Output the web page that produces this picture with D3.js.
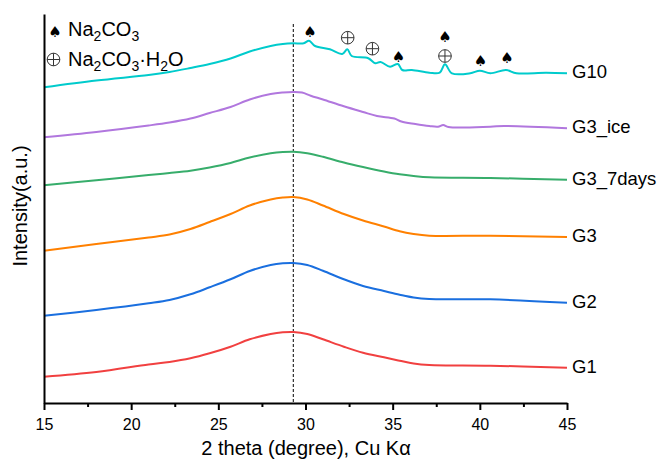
<!DOCTYPE html>
<html>
<head>
<meta charset="utf-8">
<script src="https://cdn.jsdelivr.net/npm/d3@7"></script>
<style>
  body { margin: 0; background: #fff; }
  svg { font-family: "Liberation Sans", Arial, sans-serif; }
</style>
</head>
<body>
<svg width="664" height="466"></svg>
<script>
// XRD patterns, stacked (intensity in a.u., offsets included)
const xG = [15, 18, 21, 22.2, 23.4, 24.5, 25.7, 26.8, 28, 28.7, 29.3, 30.1, 31, 32.2, 33.3, 34.5, 35.4, 36.2, 37.1, 40.6, 45];
const g1 = [26.3, 31, 38.5, 41, 44.7, 49.7, 56.3, 63.7, 69, 70.7, 71, 69, 63.7, 56.3, 50.3, 45.7, 42.3, 39.5, 38, 37.3, 35.3];
const g2 = [87.3, 93, 99.7, 103, 108.7, 115.7, 123.7, 132, 138, 139.7, 140, 138, 132.3, 123.7, 117, 112, 108.3, 105.5, 104, 103.7, 100.3];
const g3 = [152.3, 159, 165.5, 168.5, 174, 181, 189, 197.5, 203.5, 205.5, 206, 203.5, 197.5, 189, 182.5, 176.5, 171.7, 169, 167.3, 167.3, 166];
const g3days = [217.7, 222.7, 228, 230, 232.3, 235.5, 240, 245.5, 249.7, 251, 251.3, 249.7, 246.2, 240.5, 236, 231.5, 228.7, 227, 225.7, 225, 223.3];

const xIce = [15, 18, 21, 22.2, 23.4, 24.5, 25.7, 26.8, 28, 28.7, 29.3, 29.8, 30.3, 31, 32.2, 33.3, 34.1, 35.1, 35.5, 36.3, 37.1, 37.6, 37.9, 38.2, 40.6, 41.4, 45];
const g3ice = [265.7, 271, 277.5, 280.5, 284.5, 290, 296, 303.5, 309, 310.5, 311, 310.5, 307.3, 303.5, 296.7, 291, 287, 284.5, 281.5, 279, 277, 276.3, 278, 276, 276.3, 277, 274.7];

const x10 = [15, 18, 21, 22.2, 23.4, 24.5, 25.7, 26.8, 28, 28.7, 29.3, 29.9, 30.2, 30.55, 31.4, 32.1, 32.4, 32.65, 33.6, 34.0, 34.3, 34.85, 35.3, 35.55, 36.1, 37.1, 37.7, 38.0, 38.4, 39.45, 40.0, 40.6, 41.5, 42.1, 43.8, 45];
const g10 = [315.7, 322.5, 328, 331, 335, 339, 344.5, 351.5, 357, 359, 359.7, 359.7, 362.3, 357, 353.7, 349, 353.7, 347, 344.7, 339.7, 341, 336.3, 339, 333, 333, 330.3, 330.3, 338.7, 329.7, 329.7, 332.3, 329.7, 333, 329.7, 330.3, 329.7];

const seriesNames = ["G1", "G2", "G3", "G3_7days", "G3_ice", "G10"];
const seriesColors = ["#F14040", "#1A6FDF", "#FF8000", "#37AD6B", "#B177DE", "#00CBCC"];
const seriesX = [xG, xG, xG, xG, xIce, x10];
const seriesY = [g1, g2, g3, g3days, g3ice, g10];

// phase markers above the G10 pattern
const markX = [30.26, 32.42, 33.84, 35.33, 38.0, 38.0, 40.03, 41.56];
const markY = [371.3, 365.3, 354.3, 347, 366.3, 347, 343, 345.7];
const markType = ["spade", "oplus", "oplus", "spade", "spade", "oplus", "spade", "spade"];

const xTicks = [15, 20, 25, 30, 35, 40, 45];
const xMinor = [17.5, 22.5, 27.5, 32.5, 37.5, 42.5];
const refLine = 29.3;

const svg = d3.select("svg");

const x = d3.scaleLinear().domain([15, 45]).range([44, 567]);
const y = d3.scaleLinear().domain([0, 389]).range([403, 14]);

// markers
function spade(g, cx, cy) {
  g.append("text")
    .attr("x", cx).attr("y", cy)
    .attr("dy", "0.38em")
    .attr("text-anchor", "middle")
    .style("font-family", "DejaVu Sans")
    .style("font-size", "15px")
    .attr("fill", "#000")
    .text("\u2660");
}
function oplus(g, cx, cy) {
  const r = 6.3;
  g.append("circle").attr("cx", cx).attr("cy", cy).attr("r", r)
    .attr("fill", "none").attr("stroke", "#333").attr("stroke-width", 1);
  g.append("line").attr("x1", cx - r).attr("x2", cx + r).attr("y1", cy).attr("y2", cy)
    .attr("stroke", "#333").attr("stroke-width", 1);
  g.append("line").attr("x1", cx).attr("x2", cx).attr("y1", cy - r).attr("y2", cy + r)
    .attr("stroke", "#333").attr("stroke-width", 1);
}

// dashed reference line
svg.append("line")
  .attr("x1", x(refLine)).attr("x2", x(refLine))
  .attr("y1", y(379)).attr("y2", y(0))
  .attr("stroke", "#000").attr("stroke-width", 1)
  .attr("stroke-dasharray", "3,2");

const line = d3.line()
  .x(d => x(d[0]))
  .y(d => y(d[1]))
  .curve(d3.curveCatmullRom.alpha(0.5));

seriesNames.forEach((name, i) => {
  const pts = seriesX[i].map((v, j) => [v, seriesY[i][j]]);
  svg.append("path")
    .datum(pts)
    .attr("fill", "none")
    .attr("stroke", seriesColors[i])
    .attr("stroke-width", 2)
    .attr("stroke-linejoin", "round")
    .attr("d", line);

  const last = pts[pts.length - 1];
  svg.append("text")
    .attr("x", x(last[0]) + 5)
    .attr("y", y(last[1]) - 1.5)
    .attr("dy", "0.35em")
    .style("font-size", "18.5px")
    .attr("fill", "#000")
    .text(name);
});

const mk = svg.append("g");
markX.forEach((v, i) => {
  if (markType[i] === "spade") spade(mk, x(v), y(markY[i]));
  else oplus(mk, x(v), y(markY[i]));
});

// legend
const leg = svg.append("g");
spade(leg, 55, 31.7);
oplus(leg, 53.5, 59.5);
const t1 = leg.append("text").attr("x", 68).attr("y", 36).style("font-size", "20px");
t1.append("tspan").text("Na");
t1.append("tspan").attr("dy", 5).style("font-size", "14px").text("2");
t1.append("tspan").attr("dy", -5).text("CO");
t1.append("tspan").attr("dy", 5).style("font-size", "14px").text("3");
const t2 = leg.append("text").attr("x", 68).attr("y", 65.7).style("font-size", "20px");
t2.append("tspan").text("Na");
t2.append("tspan").attr("dy", 5).style("font-size", "14px").text("2");
t2.append("tspan").attr("dy", -5).text("CO");
t2.append("tspan").attr("dy", 5).style("font-size", "14px").text("3");
t2.append("tspan").attr("dy", -5).text("\u00B7H");
t2.append("tspan").attr("dy", 5).style("font-size", "14px").text("2");
t2.append("tspan").attr("dy", -5).text("O");

// axes
const xAxis = svg.append("g")
  .attr("transform", `translate(0,${y(0)})`)
  .call(d3.axisBottom(x).tickValues(xTicks).tickSize(7).tickPadding(9).tickSizeOuter(0));
xAxis.selectAll("text").style("font-size", "16px").attr("fill", "#000");

svg.append("g")
  .attr("transform", `translate(0,${y(0)})`)
  .call(d3.axisBottom(x).tickValues(xMinor).tickSize(4).tickFormat("").tickSizeOuter(0))
  .select(".domain").remove();

svg.append("g")
  .attr("transform", `translate(${x(15)},0)`)
  .call(d3.axisLeft(y).tickValues([]).tickSizeOuter(0));

svg.selectAll(".domain").attr("stroke", "#000").attr("stroke-width", 2);
svg.selectAll(".tick line").attr("stroke", "#000").attr("stroke-width", 2);

// axis titles
svg.append("text")
  .attr("x", 306).attr("y", 455)
  .attr("text-anchor", "middle")
  .style("font-size", "20px")
  .text("2 theta (degree), Cu K\u03B1");

svg.append("text")
  .attr("transform", "translate(27,206) rotate(-90)")
  .attr("text-anchor", "middle")
  .style("font-size", "20px")
  .text("Intensity(a.u.)");
</script>
</body>
</html>
